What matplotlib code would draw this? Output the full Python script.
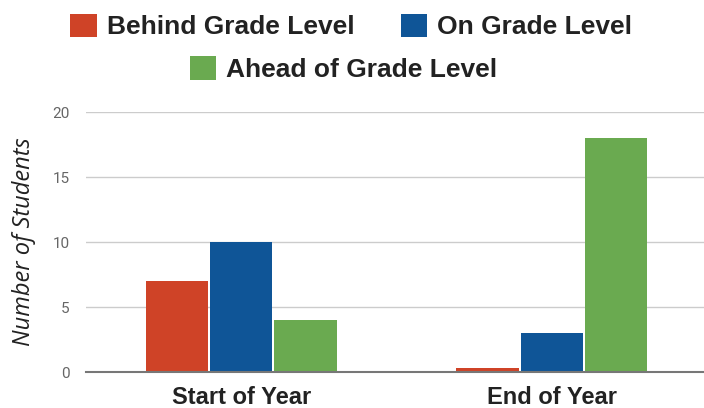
import numpy as np
import matplotlib.pyplot as plt
from matplotlib.patches import Patch

categories = ["Start of Year", "End of Year"]
series_names = ["Behind Grade Level", "On Grade Level", "Ahead of Grade Level"]
behind = [7, 0.3]
on_level = [10, 3]
ahead = [4, 18]
y_ticks = [0, 5, 10, 15, 20]

colors = ["#cf4327", "#0f5597", "#6aaa50"]

fig = plt.figure(figsize=(7.04, 4.08), dpi=100)
ax = fig.add_axes([0.122, 0.088, 0.878, 0.637])

x = np.arange(len(categories))
width = 0.2
for i, vals in enumerate([behind, on_level, ahead]):
    ax.bar(x + (i - 1) * 0.207, vals, width, color=colors[i], zorder=3)

ax.set_xlim(-0.5, 1.49)
ax.set_ylim(0, 20)
ax.set_yticks(y_ticks)
ax.set_xticks(x)
ax.set_xticklabels(categories, fontsize=17, fontweight="bold",
                   family="Liberation Sans", color="#222222")
ax.tick_params(axis="y", labelsize=11, colors="#666666", length=0, pad=11.5)
ax.tick_params(axis="x", length=0, pad=10)
for lab in ax.get_yticklabels():
    lab.set_family("Roboto")
ax.grid(axis="y", color="#cccccc", linewidth=1, zorder=0)
for s in ["top", "right", "left"]:
    ax.spines[s].set_visible(False)
ax.spines["bottom"].set_color("#777777")
ax.spines["bottom"].set_linewidth(1.5)
ax.spines["bottom"].set_zorder(4)

ax.set_ylabel("Number of Students", fontsize=17, style="italic",
              family="Open Sans", color="#222222", labelpad=12)

handles = [Patch(facecolor=c) for c in colors]
leg_font = {"family": "Liberation Sans", "weight": "bold", "size": 19}
leg1 = fig.legend(handles[:2], series_names[:2], loc="center",
                  bbox_to_anchor=(0.499, 0.935), ncol=2, frameon=False,
                  prop=leg_font, handlelength=1.0, handleheight=1.0,
                  handletextpad=0.38, columnspacing=1.75)
leg2 = fig.legend(handles[2:], series_names[2:], loc="center",
                  bbox_to_anchor=(0.488, 0.83), ncol=1, frameon=False,
                  prop=leg_font, handlelength=1.0, handleheight=1.0,
                  handletextpad=0.38)
for leg in (leg1, leg2):
    for t in leg.get_texts():
        t.set_color("#222222")

fig.savefig("out.png", dpi=100)
